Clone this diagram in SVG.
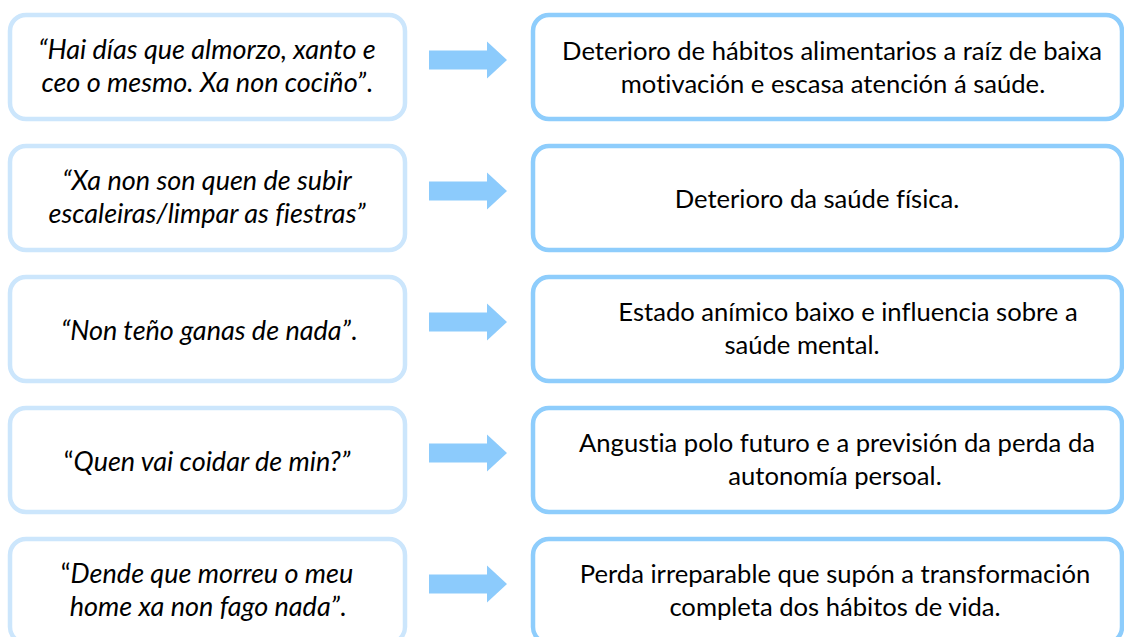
<svg xmlns="http://www.w3.org/2000/svg" width="1124" height="637" viewBox="0 0 1124 637">
<style>
.q{fill:#fff;stroke:#cce6fc;stroke-width:4.5}
.r{fill:#fff;stroke:#8ecdfc;stroke-width:4.5}
.a{fill:#8ccbfc}
text{font-family:Lato,"Liberation Sans",sans-serif;font-size:25.6px;fill:#000;text-anchor:middle;font-variant-ligatures:none;font-feature-settings:"liga" 0,"dlig" 0}
.i{font-style:italic;font-size:27px}
.n{font-style:normal}
</style>
<rect width="1124" height="637" fill="#fff"/>
<g id="connectors">
<polygon class="a" points="429,50.5 487,50.5 487,41.5 507,60 487,78.5 487,69.5 429,69.5"/>
<polygon class="a" transform="translate(0,131)" points="429,50.5 487,50.5 487,41.5 507,60 487,78.5 487,69.5 429,69.5"/>
<polygon class="a" transform="translate(0,262)" points="429,50.5 487,50.5 487,41.5 507,60 487,78.5 487,69.5 429,69.5"/>
<polygon class="a" transform="translate(0,393)" points="429,50.5 487,50.5 487,41.5 507,60 487,78.5 487,69.5 429,69.5"/>
<polygon class="a" transform="translate(0,524)" points="429,50.5 487,50.5 487,41.5 507,60 487,78.5 487,69.5 429,69.5"/>
</g>
<g id="q1"><rect class="q" x="10" y="15" width="395" height="104" rx="16"/>
<text class="i" x="207" y="59">“Hai días que almorzo, xanto e</text>
<text class="i" x="207" y="92">ceo o mesmo. Xa non cociño”<tspan class="n">.</tspan></text></g>
<g id="r1"><rect class="r" x="533" y="15" width="589" height="104" rx="16"/>
<text x="832" y="60">Deterioro de hábitos alimentarios a raíz de baixa</text>
<text x="833" y="93">motivación e escasa atención á saúde.</text></g>
<g id="q2"><rect class="q" x="10" y="146" width="395" height="104" rx="16"/>
<text class="i" x="207" y="190">“Xa non son quen de subir</text>
<text class="i" x="207" y="223">escaleiras/limpar as fiestras”</text></g>
<g id="r2"><rect class="r" x="533" y="146" width="589" height="104" rx="16"/>
<text x="817" y="208">Deterioro da saúde física.</text></g>
<g id="q3"><rect class="q" x="10" y="277" width="395" height="104" rx="16"/>
<text class="i" x="209" y="340">“Non teño ganas de nada”<tspan class="n">.</tspan></text></g>
<g id="r3"><rect class="r" x="533" y="277" width="589" height="104" rx="16"/>
<text x="848" y="321">Estado anímico baixo e influencia sobre a</text>
<text x="802" y="354">saúde mental.</text></g>
<g id="q4"><rect class="q" x="10" y="408" width="395" height="104" rx="16"/>
<text class="i" x="207" y="471"><tspan class="n">“</tspan>Quen vai coidar de min?”</text></g>
<g id="r4"><rect class="r" x="533" y="408" width="589" height="104" rx="16"/>
<text x="837" y="452">Angustia polo futuro e a previsión da perda da</text>
<text x="835" y="485">autonomía persoal.</text></g>
<g id="q5"><rect class="q" x="10" y="539" width="395" height="104" rx="16"/>
<text class="i" x="207" y="583"><tspan class="n">“</tspan>Dende que morreu o meu</text>
<text class="i" x="208" y="616">home xa non fago nada”<tspan class="n">.</tspan></text></g>
<g id="r5"><rect class="r" x="533" y="539" width="589" height="104" rx="16"/>
<text x="835" y="583">Perda irreparable que supón a transformación</text>
<text x="835" y="616">completa dos hábitos de vida.</text></g>
</svg>
